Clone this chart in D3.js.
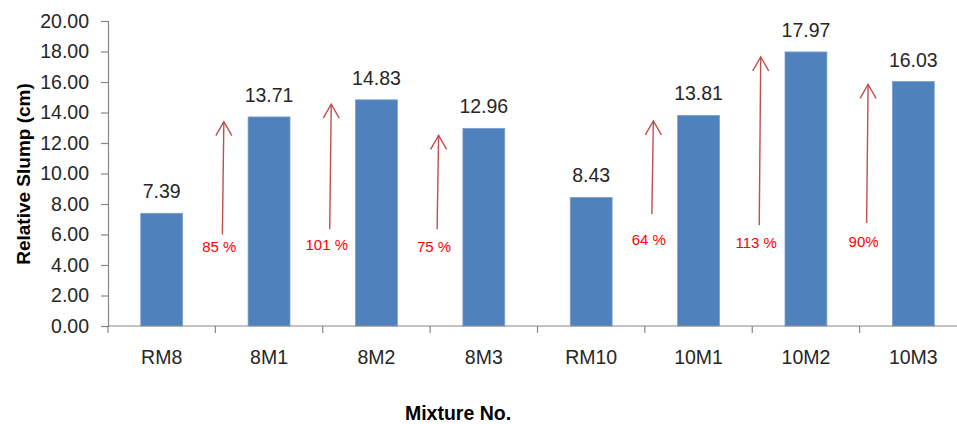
<!DOCTYPE html>
<html>
<head>
<meta charset="utf-8">
<script src="https://cdn.jsdelivr.net/npm/d3@7"></script>
<style>
  html, body { margin: 0; padding: 0; background: #fff; }
  svg { display: block; font-family: "Liberation Sans", Arial, sans-serif; }
</style>
</head>
<body>
<svg id="chart" width="957" height="424"></svg>
<script>
// ---- data ----
const categories = ["RM8", "8M1", "8M2", "8M3", "RM10", "10M1", "10M2", "10M3"];
const slump = [7.39, 13.71, 14.83, 12.96, 8.43, 13.81, 17.97, 16.03];
const yTicks = [0, 2, 4, 6, 8, 10, 12, 14, 16, 18, 20];
// increase annotations: target category, label, arrow start/end (cm), label level (cm)
const arrowTargets = ["8M1", "8M2", "8M3", "10M1", "10M2", "10M3"];
const arrowLabels = ["85 %", "101 %", "75 %", "64 %", "113 %", "90%"];
const arrowFrom = [6.0, 6.35, 6.35, 7.35, 6.6, 6.75];
const arrowTo = [13.4, 14.55, 12.5, 13.45, 17.65, 15.85];
const labelLevel = [5.18, 5.31, 5.18, 5.64, 5.44, 5.51];

// ---- layout ----
const svg = d3.select("#chart");
const mLeft = 108, mRight = 967, mTop = 21, mBottom = 326;
const x = d3.scaleBand().domain(categories).range([mLeft, mRight]).padding(0);
const y = d3.scaleLinear().domain([0, 20]).range([mBottom, mTop]);
const barFrac = 0.39;
const axisColor = "#868686";
const textColor = "#262626";
const fs = 19.5;

// bars
svg.append("g").selectAll("rect").data(categories).join("rect")
  .attr("x", (c) => x(c) + x.bandwidth() * (1 - barFrac) / 2)
  .attr("width", x.bandwidth() * barFrac)
  .attr("y", (c, i) => y(slump[i]))
  .attr("height", (c, i) => y(0) - y(slump[i]))
  .attr("fill", "#4f81bd")
  .attr("stroke", "#7ba0cf")
  .attr("stroke-width", 0.8);

// value labels
svg.append("g").selectAll("text").data(categories).join("text")
  .attr("x", (c) => x(c) + x.bandwidth() / 2)
  .attr("y", (c, i) => y(slump[i]) - 15)
  .attr("text-anchor", "middle")
  .attr("font-size", fs)
  .attr("fill", textColor)
  .text((c, i) => slump[i].toFixed(2));

// y axis
const yAxis = svg.append("g").attr("transform", `translate(${mLeft},0)`)
  .call(d3.axisLeft(y).tickValues(yTicks).tickFormat(d3.format(".2f")).tickSize(7).tickPadding(12));
yAxis.select(".domain").attr("stroke", axisColor).attr("stroke-width", 1.2);
yAxis.selectAll(".tick line").attr("stroke", axisColor).attr("stroke-width", 1.2);
yAxis.selectAll(".tick text").attr("font-size", fs).attr("fill", textColor)
  .attr("font-family", "Liberation Sans, Arial, sans-serif");

// x axis (ticks between categories, labels centered)
const xAxis = svg.append("g");
xAxis.append("line")
  .attr("x1", mLeft).attr("x2", mRight).attr("y1", mBottom).attr("y2", mBottom)
  .attr("stroke", axisColor).attr("stroke-width", 1.2);
xAxis.selectAll("line.tk").data(categories.concat(["__end"])).join("line")
  .attr("class", "tk")
  .attr("x1", (c) => c === "__end" ? mRight : x(c))
  .attr("x2", (c) => c === "__end" ? mRight : x(c))
  .attr("y1", mBottom).attr("y2", mBottom + 7)
  .attr("stroke", axisColor).attr("stroke-width", 1.2);
xAxis.selectAll("text").data(categories).join("text")
  .attr("x", (c) => x(c) + x.bandwidth() / 2)
  .attr("y", mBottom + 38)
  .attr("text-anchor", "middle")
  .attr("font-size", fs)
  .attr("fill", textColor)
  .text((c) => c);

// axis titles
svg.append("text")
  .attr("transform", `translate(30,${174}) rotate(-90)`)
  .attr("text-anchor", "middle")
  .attr("font-size", 19).attr("font-weight", "bold").attr("fill", "#000")
  .text("Relative Slump (cm)");
svg.append("text")
  .attr("x", 458).attr("y", 420)
  .attr("text-anchor", "middle")
  .attr("font-size", 19.5).attr("font-weight", "bold").attr("fill", "#000")
  .text("Mixture No.");

// arrows
const arrowColor = "#c0504d";
const arrowOffset = 0.065; // fraction of band from boundary
const ag = svg.append("g");
arrowTargets.forEach((c, i) => {
  const ax = x(c) + x.bandwidth() * arrowOffset;
  const y0 = y(arrowFrom[i]), y1 = y(arrowTo[i]);
  ag.append("line")
    .attr("x1", ax).attr("x2", ax + 1.5).attr("y1", y0).attr("y2", y1)
    .attr("stroke", arrowColor).attr("stroke-width", 1.4);
  ag.append("path")
    .attr("d", `M${ax + 1.5 - 8},${y1 + 14} L${ax + 1.5},${y1} L${ax + 1.5 + 8},${y1 + 14}`)
    .attr("fill", "none").attr("stroke", arrowColor).attr("stroke-width", 1.4);
  ag.append("text")
    .attr("x", ax - 3)
    .attr("y", y(labelLevel[i]))
    .attr("dy", "0.36em")
    .attr("text-anchor", "middle")
    .attr("font-size", 15)
    .attr("fill", "#ff0000")
    .text(arrowLabels[i]);
});
</script>
</body>
</html>
